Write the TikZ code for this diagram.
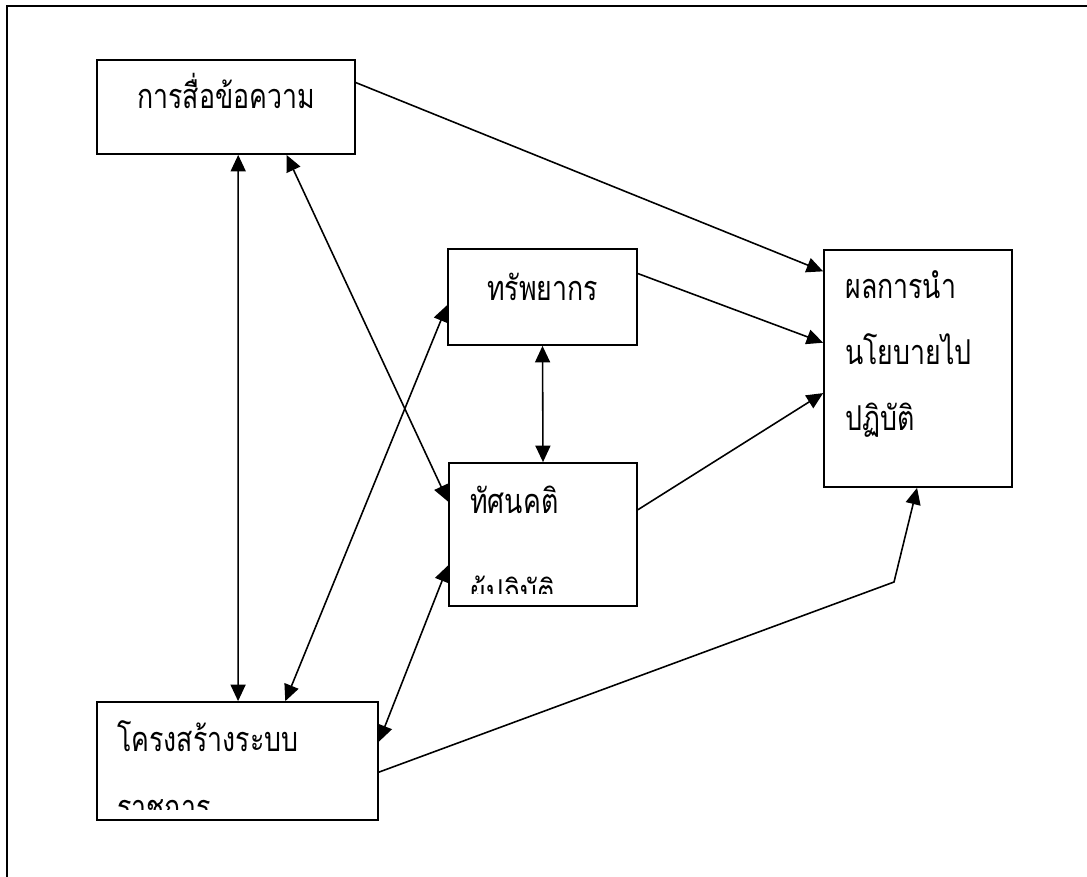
\documentclass[tikz,border=0pt]{standalone}
\usepackage{fontspec}
\newfontfamily\thaifont[Script=Thai,FakeStretch=0.78]{Loma}
\usetikzlibrary{positioning,calc,arrows.meta}
\tikzset{
  box/.style={draw=black,line width=1pt,inner sep=0pt},
  lbl/.style={font=\thaifont\fontsize{19.5}{22}\selectfont,inner sep=0pt,anchor=base west},
  link/.style={draw=black,line width=0.9pt},
  one/.style={link,-{Triangle[length=3.3mm,width=3mm]}},
  both/.style={link,{Triangle[length=3.3mm,width=3mm]}-{Triangle[length=3.3mm,width=3mm]}},
}

\begin{document}
\begin{tikzpicture}[x=0.02cm,y=-0.02cm]
\useasboundingbox (0,0) rectangle (1087,876);
% frame
\draw[line width=1pt] (7,880) -- (7,6) -- (1090,6);

% boxes
\node[box,minimum width=5.16cm,minimum height=1.88cm] (msg) at (226,107) {};
\node[box,minimum width=3.78cm,minimum height=1.92cm] (res) at (542.5,297) {};
\node[box,minimum width=3.76cm,minimum height=2.86cm] (att) at (543,534.5) {};
\node[box,minimum width=5.62cm,minimum height=2.36cm] (struct) at (237.5,761) {};
\node[box,minimum width=3.76cm,minimum height=4.74cm] (outc) at (918,368.5) {};

% texts
\node[lbl] (msgtxt) at (137,108) {การสื่อข้อความ};
\node[lbl] (restxt) at (487,300) {ทรัพยากร};
\node[lbl] (outc1) at (845,298) {ผลการนำ};
\node[lbl] (outc2) at (845,364) {นโยบายไป};
\node[lbl] (outc3) at (845,430) {ปฏิบัติ};
\node[lbl] (att1) at (470,513) {ทัศนคติ};
\begin{scope}
\clip (449,463) rectangle (637,593);
\node[lbl] (att2) at (470,604) {ผู้ปฏิบัติ};
\end{scope}
\node[lbl] (struct1) at (117,751) {โครงสร้างระบบ};
\begin{scope}
\clip (97,702) rectangle (378,809);
\node[lbl] (struct2) at (117,819) {ราชการ};
\end{scope}

% links
\draw[one] ($(msg.north east)!0.245!(msg.south east)$) -- ($(outc.north west)!0.093!(outc.south west)$);
\draw[both] ($(msg.south west)!0.547!(msg.south east)$) -- ($(struct.north west)!0.502!(struct.north east)$);
\draw[both] ($(msg.south west)!0.733!(msg.south east)$) -- ($(att.north west)!0.273!(att.south west)$);
\draw[both] ($(res.north west)!0.583!(res.south west)$) -- ($(struct.north west)!0.669!(struct.north east)$);
\draw[both] (res.south) -- (att.north);
\draw[one] ($(res.north east)!0.26!(res.south east)$) -- ($(outc.north west)!0.392!(outc.south west)$);
\draw[one] ($(att.north east)!0.329!(att.south east)$) -- ($(outc.north west)!0.603!(outc.south west)$);
\draw[both] ($(att.north west)!0.713!(att.south west)$) -- ($(struct.north east)!0.339!(struct.south east)$);
\coordinate (bend) at (894,582);
\draw[one] ($(struct.north east)!0.593!(struct.south east)$) -- (bend) -- ($(outc.south west)!0.495!(outc.south east)$);
\end{tikzpicture}
\end{document}
